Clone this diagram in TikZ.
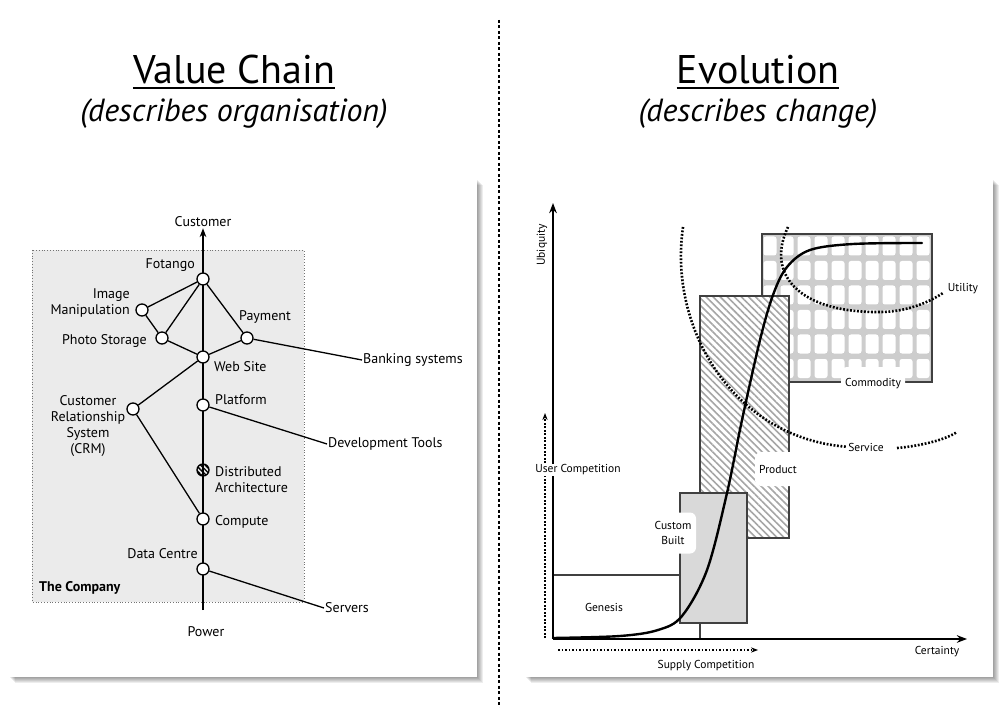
\documentclass[tikz,border=0pt]{standalone}
\usepackage{fontspec}
\setmainfont{PT Sans}
\usetikzlibrary{positioning,arrows.meta,patterns.meta}

\definecolor{companygray}{HTML}{EBEBEB}
\definecolor{customgray}{HTML}{D9D9D9}
\definecolor{gridgray}{HTML}{CDCDCD}

\tikzset{
  panel/.style={fill=white},
  chainnode/.style={circle, draw, fill=white, line width=1.3pt, minimum size=12pt, inner sep=0pt},
  chainlabel/.style={font=\fontsize{14}{16}\selectfont, inner sep=1pt, align=center},
  evolabel/.style={font=\fontsize{11.5}{15}\selectfont, inner sep=1pt, align=center},
  tag/.style={evolabel, fill=white, rounded corners=6pt},
  bigdots/.style={line width=2.6pt, dash pattern=on 1.8pt off 1.7pt},
  stagebox/.style={draw=black!75, line width=1.2pt},
  >=Stealth
}

\begin{document}
\begin{tikzpicture}[x=1pt, y=-1pt]

\useasboundingbox (0,0) rectangle (1006,708);
\fill[white] (0,0) rectangle (1006,708);

%-------------------------
% Titles
%-------------------------

\node[inner sep=0pt, font=\fontsize{40}{42}\selectfont] (vctitle) at (234,70) {Value Chain};
\node[font=\fontsize{32}{36}\itshape\selectfont] (vcsub) at (234,114) {(describes organisation)};
\node[inner sep=0pt, font=\fontsize{40}{42}\selectfont] (evtitle) at (758,70) {Evolution};
\node[font=\fontsize{32}{36}\itshape\selectfont] (evsub) at (758,114) {(describes change)};
\draw[line width=1.8pt] ([yshift=-4pt]vctitle.base west) -- ([yshift=-4pt]vctitle.base east);
\draw[line width=1.8pt] ([yshift=-4pt]evtitle.base west) -- ([yshift=-4pt]evtitle.base east);

\draw[line width=1.2pt, dash pattern=on 3pt off 2.5pt] (499,20) -- (499,708);

%-------------------------
% Panels
%-------------------------

\foreach \s in {1,...,6} {
  \fill[black, opacity=0.07] (9+\s,179+\s) rectangle (477+\s,677+\s);
  \fill[black, opacity=0.07] (525+\s,179+\s) rectangle (993+\s,677+\s);
}
\fill[panel] (9,179) rectangle (477,677);
\fill[panel] (525,179) rectangle (993,677);

%-------------------------
% Value chain
%-------------------------

\filldraw[fill=companygray, draw=black!55, dotted, line width=0.8pt] (32,250) rectangle (304,602);

\coordinate (pwrtop) at (203,610);
\node[chainlabel] (cust) at (203,222) {Customer};
\node[chainlabel] (power) at (206,632) {Power};

\draw[line width=1.3pt, ->] (pwrtop) -- (cust.south);

\node[chainnode] (fotango) at (203,279) {};
\node[chainnode] (imgman)  at (142,310) {};
\node[chainnode] (photo)   at (162,338) {};
\node[chainnode] (payment) at (247,338) {};
\node[chainnode] (website) at (203,357) {};
\node[chainnode] (crm)     at (133,409) {};
\node[chainnode] (platform) at (203,405) {};
\node[chainnode, pattern={Lines[angle=-45, distance=3.2pt, line width=1.4pt]}] (distarch) at (203,470) {};
\node[chainnode] (compute) at (203,519) {};
\node[chainnode] (datac)   at (203,569) {};

\node[chainlabel] (banking) [anchor=west] at (362,360) {Banking systems};
\node[chainlabel] (devtools) [anchor=west] at (327,444) {Development Tools};
\node[chainlabel] (servers) [anchor=west] at (324,608) {Servers};

\draw[line width=1.3pt] (fotango) -- (imgman);
\draw[line width=1.3pt] (fotango) -- (photo);
\draw[line width=1.3pt] (fotango) -- (payment);
\draw[line width=1.3pt] (imgman) -- (photo);
\draw[line width=1.3pt] (photo) -- (website);
\draw[line width=1.3pt] (payment) -- (website);
\draw[line width=1.3pt] (website) -- (crm);
\draw[line width=1.3pt] (crm) -- (compute);
\draw[line width=1.3pt] (payment) -- (banking.west);
\draw[line width=1.3pt] (platform) -- (devtools.west);
\draw[line width=1.3pt] (datac) -- (servers.west);

\node[chainlabel, anchor=east] (fotangolbl) at (196,265) {Fotango};
\node[chainlabel, anchor=east, align=right] (imgmanlbl) at (131,303) {Image\\Manipulation};
\node[chainlabel, anchor=east] (photolbl) at (148,341) {Photo Storage};
\node[chainlabel] (paymentlbl) at (265,317) {Payment};
\node[chainlabel, anchor=west] (websitelbl) at (213,367) {Web Site};
\node[chainlabel] (crmlbl) at (88,426) {Customer\\Relationship\\System\\(CRM)};
\node[chainlabel, anchor=west] (platformlbl) at (214,400) {Platform};
\node[chainlabel, anchor=west, align=left] (distarchlbl) at (214,480) {Distributed\\Architecture};
\node[chainlabel, anchor=west] (computelbl) at (214,522) {Compute};
\node[chainlabel, anchor=east] (datalbl) at (199,554) {Data Centre};
\node[chainlabel, anchor=west, font=\fontsize{14}{16}\bfseries\selectfont] (company) at (38,588) {The Company};

%-------------------------
% Evolution
%-------------------------

% commodity grid
\fill[gridgray] (762,234) rectangle (932,382);
\foreach \i in {0,...,9}
  \foreach \j in {0,...,5}
    \fill[white, rounded corners=2.5pt] (763.5+17*\i,236.5+24.5*\j) rectangle ++(13,19);
\draw[stagebox] (762,234) rectangle (932,382);

% product
\fill[white] (700,296) rectangle (789,538);
\fill[pattern={Lines[angle=-45, distance=5pt, line width=1.6pt]}, pattern color=black!35] (700,296) rectangle (789,538);
\draw[stagebox] (700,296) rectangle (789,538);

% custom built and genesis
\filldraw[stagebox, fill=customgray] (680,493) rectangle (747,623);
\draw[stagebox] (553,575) -- (680,575);
\draw[stagebox] (700,623) -- (700,639);

% dotted arcs
\draw[bigdots] (683,227) .. controls (668,330) and (735,440) .. (850,447);
\draw[bigdots] (897,448) .. controls (920,446) and (945,440) .. (957,432);
\draw[bigdots] (788,227) .. controls (765,275) and (800,313) .. (880,312)
  .. controls (905,312) and (928,303) .. (943,293);

% curve
\draw[line width=2.4pt, line cap=round] plot[smooth, tension=0.55] coordinates
  {(553,638) (620,636) (658,630) (682,616) (707,570) (727,493) (742,420) (760,340) (773,295) (787,267) (810,250) (853,244) (922,243)};

% axes
\draw[line width=1.6pt, ->] (553,639) -- (553,203);
\draw[line width=1.6pt, ->] (553,639) -- (967,639);
\node[evolabel, rotate=90] (ubiq) at (542,245) {Ubiquity};
\node[evolabel] (certainty) at (937,652) {Certainty};

\coordinate (usrfrom) at (545,638);
\coordinate (usrto) at (545,413);
\draw[bigdots, line width=2pt, -{Stealth[length=7pt]}] (usrfrom) -- (usrto);
\node[evolabel, fill=white] (usercomp) at (578,470) {User Competition};

\coordinate (supfrom) at (558,650);
\coordinate (supto) at (758,650);
\draw[bigdots, line width=2pt, -{Stealth[length=7pt]}] (supfrom) -- (supto);
\node[evolabel] (supplycomp) at (706,666) {Supply Competition};

\node[evolabel] (genesis) at (604,607) {Genesis};
\node[tag, minimum width=46pt, minimum height=41pt] (custom) at (673,533) {Custom\\Built};
\node[tag, minimum width=46pt, minimum height=34pt] (product) at (778,469) {Product};
\node[tag, minimum width=64pt, minimum height=34pt] (commodity) at (873,384) {Commodity};
\node[evolabel, fill=white] (service) at (866,447) {Service};
\node[evolabel] (utility) at (963,289) {Utility};

\end{tikzpicture}
\end{document}
